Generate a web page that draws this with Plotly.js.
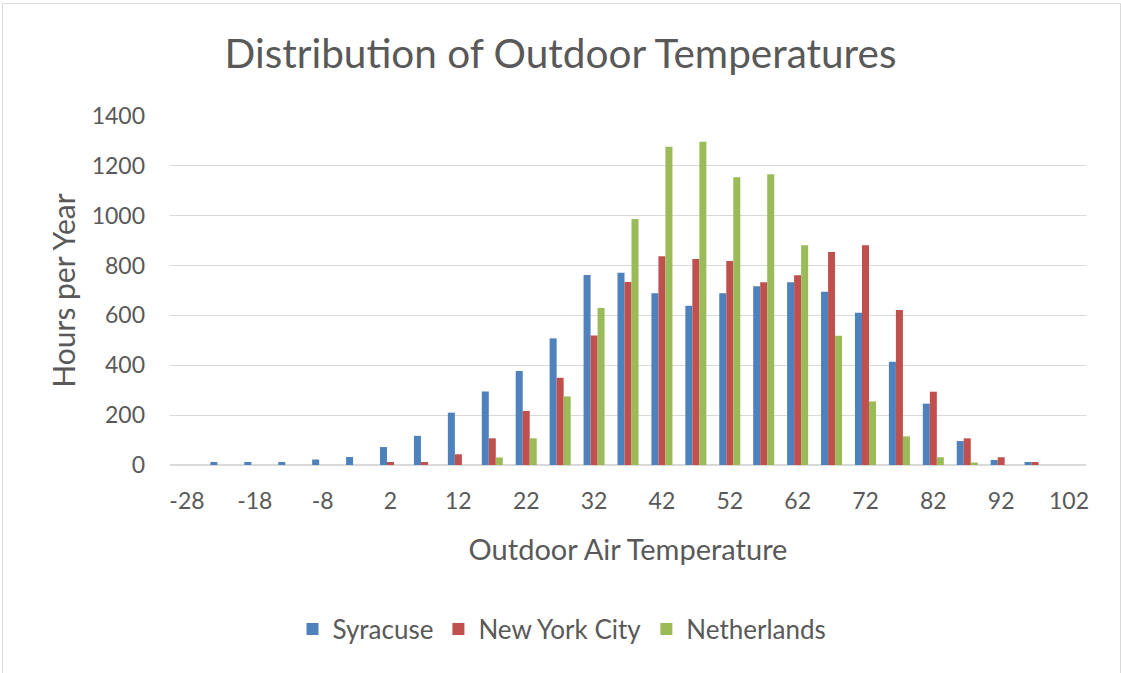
<!DOCTYPE html>
<html>
<head>
<meta charset="utf-8">
<script src="https://cdn.plot.ly/plotly-3.0.1.min.js"></script>
<style>
  html, body { margin: 0; padding: 0; background: #ffffff; }
  #chart { width: 1121px; height: 673px; }
</style>
</head>
<body>
<div id="chart"></div>
<script>
// Category values (outdoor air temperature bins, °F)
var temps = [-28, -23, -18, -13, -8, -3, 2, 7, 12, 17, 22, 27, 32, 37, 42, 47, 52, 57, 62, 67, 72, 77, 82, 87, 92, 97, 102];
var tickTemps = [-28, -18, -8, 2, 12, 22, 32, 42, 52, 62, 72, 82, 92, 102];

// Hours per year for each series
var syracuse = [0, 12, 12, 12, 22, 32, 72, 117, 210, 295, 377, 508, 762, 771, 689, 639, 689, 717, 733, 695, 611, 414, 246, 96, 20, 12, 0];
var newYorkCity = [0, 0, 0, 0, 0, 0, 12, 12, 43, 107, 217, 350, 519, 734, 837, 826, 818, 733, 761, 854, 882, 622, 294, 107, 31, 12, 0];
var netherlands = [0, 0, 0, 0, 0, 0, 0, 0, 0, 30, 107, 275, 630, 987, 1277, 1297, 1154, 1166, 882, 518, 255, 115, 31, 10, 0, 0, 0];

var seriesNames = ['Syracuse', 'New York City', 'Netherlands'];
var seriesColors = ['#4F81BD', '#C0504D', '#9BBB59'];
var seriesData = [syracuse, newYorkCity, netherlands];

var textColor = '#595959';
var fontFamily = 'Lato, "Open Sans", sans-serif';

var traces = seriesData.map(function (vals, i) {
  return {
    type: 'bar',
    name: seriesNames[i],
    x: temps,
    y: vals,
    marker: { color: seriesColors[i] },
    hoverinfo: 'x+y+name'
  };
});

var W = 1121, H = 673;
var L = 170, R = 1086, T = 116, B = 465;
var pw = R - L, ph = B - T;
function px(x) { return (x - L) / pw; }
function py(y) { return (B - y) / ph; }

var layout = {
  width: W,
  height: H,
  margin: { l: L, r: W - R, t: T, b: H - B, pad: 0 },
  paper_bgcolor: '#ffffff',
  plot_bgcolor: '#ffffff',
  font: { family: fontFamily, color: textColor },
  barmode: 'group',
  bargap: 0.38,
  bargroupgap: 0,
  title: {
    text: 'Distribution of Outdoor Temperatures',
    font: { family: fontFamily, size: 40.5, color: textColor },
    x: 0.5, xref: 'container', xanchor: 'center',
    y: 1 - 54 / H, yref: 'container', yanchor: 'middle'
  },
  xaxis: {
    type: 'linear',
    range: [-30.5, 104.5],
    tickmode: 'array',
    tickvals: tickTemps,
    ticktext: tickTemps.map(String),
    showgrid: false,
    zeroline: false,
    showline: false,
    ticks: '',
    tickfont: { family: fontFamily, size: 23, color: textColor },
    ticklabelstandoff: 20,
    title: {
      text: 'Outdoor Air Temperature',
      font: { family: fontFamily, size: 29, color: textColor },
      standoff: 26
    }
  },
  yaxis: {
    range: [0, 1400],
    tickmode: 'array',
    tickvals: [0, 200, 400, 600, 800, 1000, 1200, 1400],
    showgrid: true,
    gridcolor: '#D9D9D9',
    gridwidth: 1,
    zeroline: true,
    zerolinecolor: '#D9D9D9',
    zerolinewidth: 1.5,
    showline: false,
    ticks: '',
    tickfont: { family: fontFamily, size: 23, color: textColor },
    ticklabelstandoff: 24,
    title: {
      text: 'Hours per Year',
      font: { family: fontFamily, size: 30, color: textColor },
      standoff: 7
    }
  },
  showlegend: true,
  legend: {
    orientation: 'h',
    x: px(562), xanchor: 'center',
    y: py(629), yanchor: 'middle',
    font: { family: fontFamily, size: 26, color: textColor },
    itemwidth: 30,
    traceorder: 'normal',
    bgcolor: 'rgba(0,0,0,0)'
  },
  shapes: [{
    type: 'rect',
    xref: 'paper', yref: 'paper',
    x0: px(2.5), x1: px(1120.5),
    y0: py(680), y1: py(3.5),
    line: { color: '#D9D9D9', width: 1 },
    fillcolor: 'rgba(0,0,0,0)',
    layer: 'below'
  }]
};

Plotly.newPlot('chart', traces, layout, { displayModeBar: false, responsive: false });
</script>
</body>
</html>
